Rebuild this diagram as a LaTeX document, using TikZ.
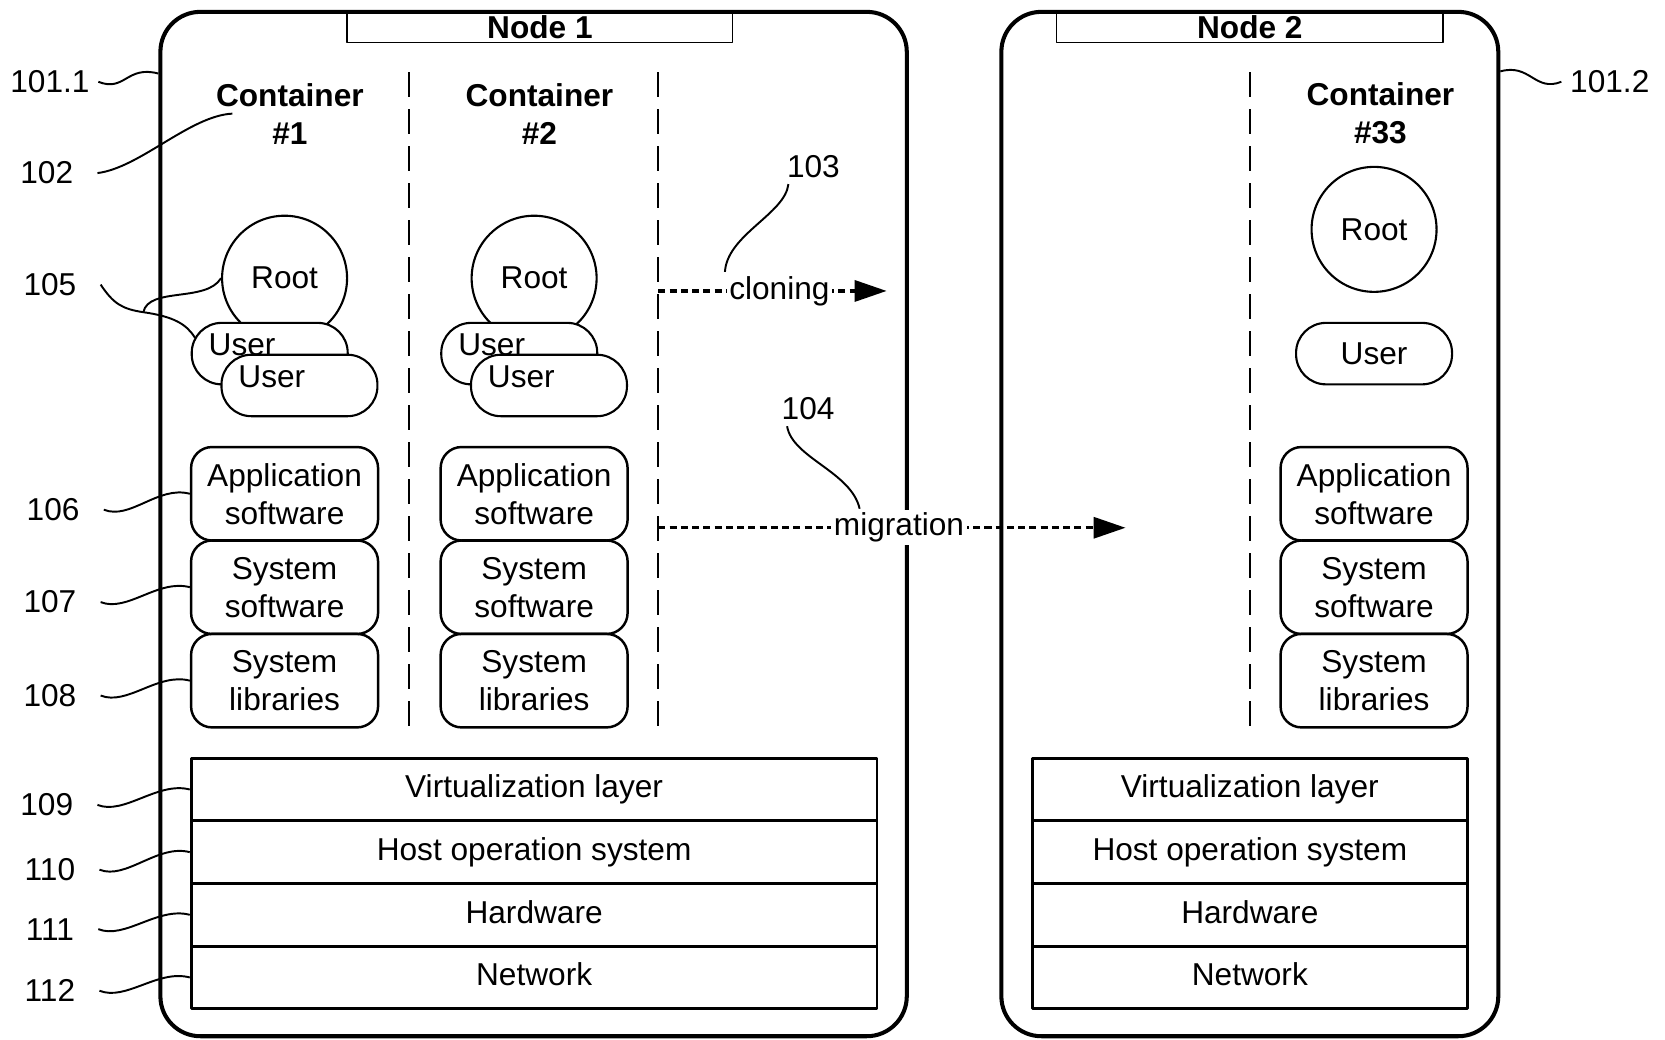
\documentclass[tikz,border=0pt]{standalone}
\usepackage{fontspec}
\setmainfont{Liberation Sans}
\usetikzlibrary{arrows.meta}
\usetikzlibrary{calc}
\newcommand{\diagfont}{\fontsize{18}{21.7}\selectfont}
\tikzset{>={Triangle[length=0.64cm, width=0.42cm]}}
\tikzset{
    hostnode/.style={draw, line width=2.3pt, rounded corners=0.8cm, minimum width=#1, minimum height=20.49cm},
    hosttitle/.style={draw, line width=0.9pt, inner sep=0pt, minimum height=0.616cm, font=\diagfont\bfseries},
    ctitle/.style={align=center, font=\diagfont\bfseries},
    rootnode/.style={circle, draw, fill=white, line width=1.2pt, minimum size=2.5cm, inner sep=0pt},
    usernode/.style={draw, fill=white, line width=1.2pt, rounded corners=0.6cm, minimum width=3.12cm, minimum height=1.23cm},
    userstack/.style={usernode, text width=2.44cm, inner xsep=0.34cm, align=left},
    softbox/.style={draw, line width=1.4pt, rounded corners=0.42cm, minimum width=3.74cm, minimum height=1.87cm, align=center, inner sep=0pt},
    layerbox/.style={draw, line width=1.6pt, minimum width=#1, minimum height=1.253cm, inner sep=0pt, text height=0.46cm, text depth=0.13cm},
    numlabel/.style={inner xsep=0.48cm},
    contsep/.style={line width=1.2pt, dash pattern=on 0.5cm off 0.24cm},
    flowarrow/.style={->, line width=1.9pt, dash pattern=on 4pt off 2.4pt},
    flowlabel/.style={fill=white, inner sep=1.5pt},
    leader/.style={line width=1.1pt},
    tilde/.style={to path={.. controls +(25,10) and +(-30,-8) .. (\tikztotarget)}},
}

\begin{document}
\begin{tikzpicture}[x=0.021237cm, y=-0.021237cm, font=\diagfont, line join=round] % two hosts
	\useasboundingbox (0,0) rectangle (1568,979);
	\node[hosttitle, minimum width=7.71cm] (headA) at (508.5,25.5) {Node 1};
	\node[hosttitle, minimum width=7.73cm] (headB) at (1177,25.5) {Node 2};
	\node[hostnode=14.93cm] (nodeA) at (502.5,493.5) {};
	\node[hostnode=9.94cm] (nodeB) at (1177,493.5) {};

	\node[ctitle] (titleA) at (273,107) {Container\\\#1};
	\node[ctitle] (titleB) at (508,107) {Container\\\#2};
	\node[ctitle] (titleC) at (1300,107) {Container\\\#33};

	\node[rootnode] (rootA) at (268,262) {Root};
	\node[userstack] (userA) at (254,333) {\raisebox{0.34cm}{User}};
	\node[userstack] (userA2) at (282,363) {\raisebox{0.34cm}{User}};
	\node[rootnode] (rootB) at (503,262) {Root};
	\node[userstack] (userB) at (489,333) {\raisebox{0.34cm}{User}};
	\node[userstack] (userB2) at (517,363) {\raisebox{0.34cm}{User}};
	\node[rootnode] (rootC) at (1294,216) {Root};
	\node[usernode] (userC) at (1294,333) {User};

	\node[softbox] (appA) at (268,465) {Application\\software};
	\node[softbox] (sysA) at (268,553) {System\\software};
	\node[softbox] (libA) at (268,641) {System\\libraries};
	\node[softbox] (appB) at (503,465) {Application\\software};
	\node[softbox] (sysB) at (503,553) {System\\software};
	\node[softbox] (libB) at (503,641) {System\\libraries};
	\node[softbox] (appC) at (1294,465) {Application\\software};
	\node[softbox] (sysC) at (1294,553) {System\\software};
	\node[softbox] (libC) at (1294,641) {System\\libraries};

	\coordinate (sepA) at (385,68);
	\coordinate (sepB) at (620,68);
	\coordinate (sepC) at (1177,68);
	\draw[contsep] (sepA) -- (sepA |- libA.south);
	\draw[contsep] (sepB) -- (sepB |- libA.south);
	\draw[contsep] (sepC) -- (sepC |- libC.south);

	\node[layerbox=13.72cm] (virtA) at (503,743.5) {Virtualization layer};
	\node[layerbox=13.72cm] (hostA) at (503,802.5) {Host operation system};
	\node[layerbox=13.72cm] (hwA) at (503,861.5) {Hardware};
	\node[layerbox=13.72cm] (netA) at (503,920.5) {Network};
	\node[layerbox=8.71cm] (virtB) at (1177,743.5) {Virtualization layer};
	\node[layerbox=8.71cm] (hostB) at (1177,802.5) {Host operation system};
	\node[layerbox=8.71cm] (hwB) at (1177,861.5) {Hardware};
	\node[layerbox=8.71cm] (netB) at (1177,920.5) {Network};

	% cloning and migration
	\coordinate (cloneEnd) at (835,274);
	\coordinate (migrEnd) at (1060,497);
	\draw[flowarrow] (sepB |- cloneEnd) -- node[flowlabel, pos=0.53] (clon) {cloning} (cloneEnd);
	\draw[flowarrow] (sepB |- migrEnd) -- node[flowlabel, pos=0.515] (migr) {migration} (migrEnd);

	% reference numerals
	\node[inner xsep=0.17cm] (l1011) at (47,77) {101.1};
	\node[inner xsep=0.17cm] (l1012) at (1516,77) {101.2};
	\node[numlabel] (l102) at (44,163) {102};
	\node[numlabel] (l105) at (47,268) {105};
	\node[numlabel] (l106) at (50,480) {106};
	\node[numlabel] (l107) at (47,567) {107};
	\node[numlabel] (l108) at (47,655) {108};
	\node[numlabel] (l109) at (44,758) {109};
	\node[numlabel] (l110) at (47,819) {110};
	\node[numlabel] (l111) at (47,875) {111};
	\node[numlabel] (l112) at (47,933) {112};
	\node (l103) at (766,157) {103};
	\node (l104) at (761,385) {104};
	\coordinate (j105) at (135,294);

	\draw[leader] (l1011.east) to[tilde] ($(nodeA.north west)+(0,60)$);
	\draw[leader] ($(nodeB.north east)+(0,58)$) .. controls +(28,-8) and +(-25,10) .. (l1012.west);
	\draw[leader] (l102.east) .. controls +(40,-5) and +(-40,2) .. ([xshift=0.45cm]titleA.west);
	\draw[leader] (l105.east) .. controls +(12,18) and +(-20,-3) .. (j105)
		.. controls +(28,4) and +(-8,-13) .. ($(userA.west)+(4,-15)$);
	\draw[leader] (j105) .. controls +(5,-24) and +(-14,23) .. (rootA.west);
	\draw[leader] (l106.east) to[tilde] (appA.west);
	\draw[leader] (l107.east) to[tilde] (sysA.west);
	\draw[leader] (l108.east) to[tilde] (libA.west);
	\draw[leader] (l109.east) to[tilde] (virtA.west);
	\draw[leader] (l110.east) to[tilde] (hostA.west);
	\draw[leader] (l111.east) to[tilde] (hwA.west);
	\draw[leader] (l112.east) to[tilde] (netA.west);
	\draw[leader] ([xshift=-0.5cm]l103.south) .. controls +(-3,28) and +(2,-35) .. (clon.north west);
	\draw[leader] ([xshift=-0.42cm]l104.south) .. controls +(5,30) and +(-8,-35) .. ([xshift=0.6cm]migr.north west);
\end{tikzpicture}
\end{document}
